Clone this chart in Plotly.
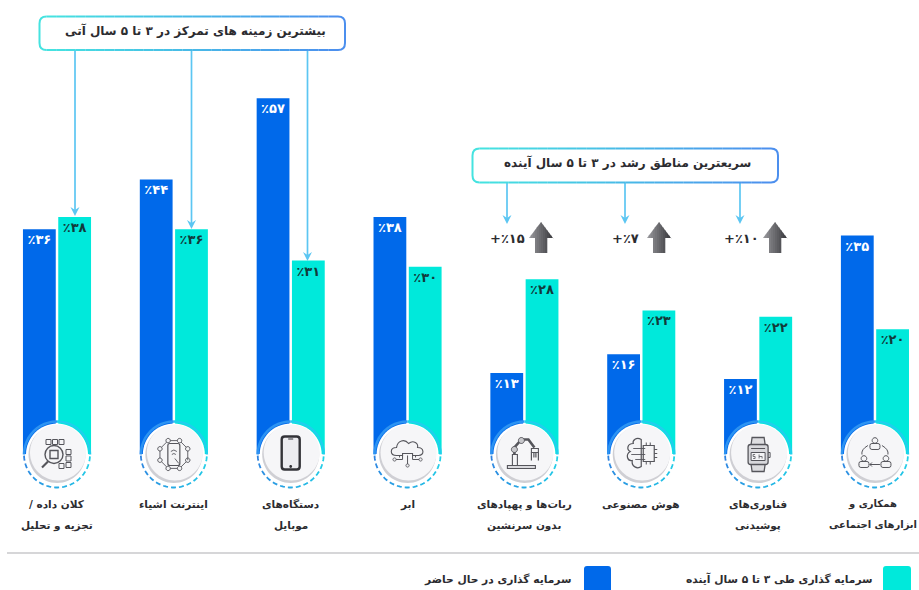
import math
import re
import plotly.graph_objects as go

# ---------- data ----------
categories = [
    "کلان داده /\u200f<br>تجزیه و تحلیل",
    "اینترنت اشیاء",
    "دستگاه‌های<br>موبایل",
    "ابر",
    "ربات‌ها و پهپادهای<br>بدون سرنشین",
    "هوش مصنوعی",
    "فناوری‌های<br>پوشیدنی",
    "همکاری و<br>ابزارهای اجتماعی",
]
current_values = [36, 44, 57, 38, 13, 16, 12, 35]
future_values = [38, 36, 31, 30, 28, 23, 22, 20]
growth_labels = ["+٪۱۵", "+٪۷", "+٪۱۰"]
series_current = "سرمایه گذاری در حال حاضر"
series_future = "سرمایه گذاری طی ۳ تا ۵ سال آینده"
title_focus = "بیشترین زمینه های تمرکز در ۳ تا ۵ سال آتی"
title_growth = "سریعترین مناطق رشد در ۳ تا ۵ سال آینده"

# ---------- layout constants ----------
W, H = 919, 590
X0, STEP = 57.0, 116.85
Y0, UNIT = 454.0, 6.24
BLUE, TEAL = "#0069EA", "#00E9DB"
DARK = "#2C2C30"
FONT = "DejaVu Sans"
ICON = "#55555B"
FA = str.maketrans("0123456789", "۰۱۲۳۴۵۶۷۸۹")


def pct(v):
    return "٪" + str(v).translate(FA)


def fx(p):
    return p / W


def fy(p):
    return 1 - p / H


def lerp(c1, c2, t):
    a = [int(c1[i:i + 2], 16) for i in (1, 3, 5)]
    b = [int(c2[i:i + 2], 16) for i in (1, 3, 5)]
    return "#" + "".join(f"{round(x + (y - x) * t):02x}" for x, y in zip(a, b))


shapes = []
annotations = []


def path(d, cx=0, cy=0, line=None, width=1.0, fill=None):
    """d is an SVG path in pixels relative to (cx, cy)."""
    toks = re.findall(r"[MLCQZ]|-?\d+\.?\d*", d)
    out, i = [], 0
    while i < len(toks):
        if toks[i] in "MLCQZ":
            out.append(toks[i])
            i += 1
        else:
            out.append(f"{fx(cx + float(toks[i])):.5f},{fy(cy + float(toks[i + 1])):.5f}")
            i += 2
    shapes.append(dict(type="path", xref="paper", yref="paper", path=" ".join(out),
                       line=dict(color=line or "rgba(0,0,0,0)", width=width if line else 0),
                       fillcolor=fill or "rgba(0,0,0,0)", layer="above"))


def circle_d(x, y, r):
    k = r * 0.5523
    return (f"M {x - r} {y} C {x - r} {y - k} {x - k} {y - r} {x} {y - r} "
            f"C {x + k} {y - r} {x + r} {y - k} {x + r} {y} "
            f"C {x + r} {y + k} {x + k} {y + r} {x} {y + r} "
            f"C {x - k} {y + r} {x - r} {y + k} {x - r} {y} Z")


def rect_d(x0, y0, x1, y1):
    return f"M {x0} {y0} L {x1} {y0} L {x1} {y1} L {x0} {y1} Z"


def rrect_d(x0, y0, x1, y1, r):
    return (f"M {x0 + r} {y0} L {x1 - r} {y0} Q {x1} {y0} {x1} {y0 + r} L {x1} {y1 - r} "
            f"Q {x1} {y1} {x1 - r} {y1} L {x0 + r} {y1} Q {x0} {y1} {x0} {y1 - r} "
            f"L {x0} {y0 + r} Q {x0} {y0} {x0 + r} {y0} Z")


def text(x, y, s, size=12.5, color=DARK, anchor="center"):
    annotations.append(dict(xref="paper", yref="paper", x=fx(x), y=fy(y), text=s, showarrow=False,
                            xanchor=anchor, yanchor="middle",
                            font=dict(family=FONT, size=size, color=color, weight="bold")))


def arc_pts(cx, cy, r, a0, a1, n=6):
    pts = []
    for i in range(n + 1):
        a = math.radians(a0 + (a1 - a0) * i / n)
        pts.append((cx + r * math.cos(a), cy - r * math.sin(a)))
    return "M " + " L ".join(f"{x:.2f} {y:.2f}" for x, y in pts)


def callout(x0, y0, x1, y1):
    c1, c2 = "#45E3E0", "#4C8FEE"
    path(rrect_d(x0, y0, x1, y1, 7), fill="#FFFFFF", line="#8FC6EE", width=0.5)
    r = 7
    path(f"M {x0 + r} {y0} Q {x0} {y0} {x0} {y0 + r} L {x0} {y1 - r} Q {x0} {y1} {x0 + r} {y1}",
         line=c1, width=2)
    path(f"M {x1 - r} {y0} Q {x1} {y0} {x1} {y0 + r} L {x1} {y1 - r} Q {x1} {y1} {x1 - r} {y1}",
         line=c2, width=2)
    n = 30
    for i in range(n):
        a = x0 + r + (x1 - x0 - 2 * r) * i / n
        b = x0 + r + (x1 - x0 - 2 * r) * (i + 1) / n
        col = lerp(c1, c2, (i + 0.5) / n)
        path(f"M {a:.1f} {y0} L {b:.1f} {y0}", line=col, width=2)
        path(f"M {a:.1f} {y1} L {b:.1f} {y1}", line=col, width=2)


def arrow_down(x, y0, y1):
    col = "#5CC6F2"
    path(f"M {x} {y0} L {x} {y1 - 3}", line=col, width=1.7)
    path(f"M {x - 4.5} {y1 - 9} L {x} {y1 - 6} L {x + 4.5} {y1 - 9} L {x} {y1} Z", fill=col)


def up_arrow(cx, top=222, bottom=253):
    n = 12
    half = 12
    stem = 6.5
    neck = top + 16
    for i in range(n):
        a = cx - half + 2 * half * i / n
        b = cx - half + 2 * half * (i + 1) / n + 0.3
        ya = top + 16 * abs(a - cx) / half
        yb = top + 16 * abs(b - cx) / half
        pts = [(a, ya)]
        if a <= cx <= b:
            pts.append((cx, top))
        pts.append((b, yb))
        in_a, in_b = abs(a - cx) < stem, abs(b - cx) < stem
        low = bottom if (in_a and in_b) else neck
        pts += [(b, low), (a, low)]
        d = "M " + " L ".join(f"{x:.2f} {y:.2f}" for x, y in pts) + " Z"
        path(d, fill=lerp("#9A9A9E", "#38383C", (i + 0.5) / n))


# ---------- icons (pixels relative to the hub centre) ----------
def icon_data(c, y):
    for i in range(3):
        path(rect_d(-11 + i * 6.5, -15, -6 + i * 6.5, -10), c, y, ICON, 1)
    for j in range(3):
        path(rect_d(9, -5 + j * 6.5, 14, 0 + j * 6.5), c, y, ICON, 1)
    path(rect_d(2, 9, 7, 14), c, y, ICON, 1)
    path(circle_d(-3, 0, 9), c, y, ICON, 1.4, "#F4F4F6")
    path(rect_d(-7, -4, 1, 4), c, y, ICON, 1.4)
    path("M -9 7 L -15 13", c, y, ICON, 2.2)


def icon_iot(c, y):
    for i in range(8):
        a = math.radians(22.5 + i * 45)
        px, py = 15 * math.cos(a), 15 * math.sin(a)
        a2 = math.radians(22.5 + (i + 1) * 45)
        path(f"M {px:.1f} {py:.1f} L {15 * math.cos(a2):.1f} {15 * math.sin(a2):.1f}", c, y, ICON, 0.9)
        path(circle_d(round(px, 1), round(py, 1), 2.2), c, y, ICON, 1, "#F4F4F6")
    path(rrect_d(-6, -11, 6, 11, 2), c, y, ICON, 1.2, "#F4F4F6")
    path("M -3 -3 Q 0 -6 3 -3 M -2 0 Q 0 -2 2 0 M 1 4 L 5 9", c, y, ICON, 0.9)


def icon_phone(c, y):
    path(rrect_d(-9, -18, 9, 15, 3), c, y, "#333338", 2.4, "#ECECF0")
    path(circle_d(0, 12, 1.4), c, y, None, 1, "#333338")
    path("M -2.5 -15.5 L 2.5 -15.5", c, y, "#333338", 1)


def icon_cloud(c, y):
    path("M -11 1 C -18 1 -18 -7 -11 -7 C -10 -14 -3 -16 1 -11 C 6 -15 11 -11 10 -7 "
         "C 17 -7 17 1 11 1 L 5 1 L 5 -1 L -5 -1 L -5 1 Z", c, y, ICON, 1.1, "#F4F4F6")
    path("M 0 1 L 0 10 M -5 1 L -5 5 L -12 5 M 5 1 L 5 5 L 12 5 M -8 1 L -8 3 M 8 1 L 8 3", c, y, ICON, 1)
    for px, py in ((0, 11), (-13, 5), (13, 5)):
        path(circle_d(px, py, 1.6), c, y, ICON, 0.9, "#F4F4F6")


def icon_robot(c, y):
    path(rect_d(-17, 11, 11, 14), c, y, ICON, 1.1, "#DADADE")
    path(rect_d(-12, 0, -7, 11), c, y, ICON, 1.1, "#F4F4F6")
    path("M -10 0 L -10 -7 L -3 -15 L 4 -15 L 10 -7", c, y, ICON, 2.6)
    path(circle_d(-10, -5, 3), c, y, ICON, 1, "#C8C8CC")
    path(circle_d(-3, -14, 3), c, y, ICON, 1, "#C8C8CC")
    path(rect_d(7, -6, 14, -2), c, y, ICON, 1.1, "#F4F4F6")
    path("M 7 -2 L 7 6 M 14 -2 L 14 6 M 9.5 -2 L 9.5 3 M 11.5 -2 L 11.5 3", c, y, ICON, 1.2)


def icon_brain(c, y):
    path("M 0 -15 C -5 -18 -9 -14 -8 -11 C -14 -11 -15 -5 -11 -3 C -16 0 -14 7 -9 6 "
         "C -10 12 -4 15 0 12 Z", c, y, ICON, 1.2, "#F4F4F6")
    path(rect_d(2, -9, 13, 7), c, y, ICON, 1.2, "#F4F4F6")
    path("M -8 -6 L 4 -6 M -10 0 L 4 0 M -6 5 L 4 5", c, y, ICON, 0.9)
    path("M 5 -9 L 5 -12 M 9 -9 L 9 -12 M 5 7 L 5 10 M 9 7 L 9 10 "
         "M 13 -5 L 16 -5 M 13 -1 L 16 -1 M 13 3 L 16 3", c, y, ICON, 1)


def icon_watch(c, y):
    path("M -7 -10 L -6 -17 L 6 -17 L 7 -10 M -7 10 L -6 17 L 6 17 L 7 10", c, y, ICON, 1.3, "#DDDDE0")
    path(rrect_d(-10, -10, 10, 10, 2.5), c, y, ICON, 1.3, "#D8D8DC")
    path(rect_d(-7, -2, 7, 6), c, y, ICON, 1, "#F4F4F6")
    path("M -7 -6 L 7 -6 M 10 -2 L 12 -2 L 12 3 L 10 3", c, y, ICON, 1)
    path("M -3 0 L -5 0 L -5 2 L -3 2 L -3 4 L -5 4 M 1 0 L 1 4 M 1 2 L 4 2 L 4 4", c, y, ICON, 0.8)


def icon_people(c, y):
    for px, py in ((0, -11), (-11, 7), (11, 7)):
        path(circle_d(px, py - 3, 2.8), c, y, ICON, 1)
        path(rrect_d(px - 5, py, px + 5, py + 6, 2), c, y, ICON, 1, "#F4F4F6")
    path("M -7 -9 Q -14 -5 -13 0 M 7 -9 Q 14 -5 13 0", c, y, ICON, 1)
    path("M 5 10 L -5 10 M -3 8 L -5 10 L -3 12", c, y, ICON, 1)


icons = [icon_data, icon_iot, icon_phone, icon_cloud, icon_robot, icon_brain, icon_watch, icon_people]

# ---------- hubs ----------
for i, icon in enumerate(icons):
    cx = X0 + STEP * i
    cy = Y0 + 0.5
    path(arc_pts(cx, cy, 33, 180, 90, 12), line="#2C93F2", width=2.5)
    path(arc_pts(cx, cy, 33, 90, 0, 12), line="#1FD0EC", width=2.5)
    path(circle_d(cx, cy, 31), fill="#FFFFFF")
    n = 13
    for k in range(n):
        a0 = 180 + 180 * k / n + 2
        a1 = a0 + 180 / n * 0.62
        path(arc_pts(cx, cy, 33, a0, a1, 3), line=lerp("#2E7FE0", "#1FD5E8", (k + 0.5) / n), width=1.8)
    path(circle_d(cx, cy, 28.5), fill="#CFCFD4")
    path(circle_d(cx + 1, cy - 2, 28), fill="#F6F6F8")
    icon(cx, cy)

# ---------- call-outs ----------
arrow_down(75, 50, 216)
arrow_down(191.5, 50, 229)
arrow_down(307.5, 50, 261)
callout(39.5, 16.5, 345, 50)
text(195, 31, title_focus, 12)

for x in (507, 625, 740):
    arrow_down(x, 183, 224)
callout(472.5, 148.5, 778, 182.5)
text(627, 163, title_growth, 12)

for g, ax, tx in zip(growth_labels, (541, 659, 775), (507, 625, 741)):
    up_arrow(ax)
    text(tx, 239, g, 13)

# ---------- category labels ----------
for i, cat in enumerate(categories):
    for j, part in enumerate(cat.split("<br>")):
        annotations.append(dict(xref="x", yref="paper", x=cat, y=fy(504 + 21 * j), text=part,
                                showarrow=False, xanchor="center", yanchor="middle",
                                xshift=-2 if i == 7 else 0,
                                font=dict(family=FONT, size=10 if i == 7 else 10.5, color=DARK,
                                          weight="bold")))

# ---------- separator + legend ----------
path(f"M 7 553 L {W} 553", line="#AEAEB2", width=1.2)
path(rrect_d(883, 566, 911, 600, 3), fill=TEAL)
path(rrect_d(584, 566, 611, 600, 3), fill=BLUE)
text(875, 579, series_future, 10.7, anchor="right")
text(573, 579, series_current, 10.7, anchor="right")

# ---------- bars ----------
fig = go.Figure()
fig.add_bar(name=series_current, x=categories, y=current_values, marker_color=BLUE,
            text=[pct(v) for v in current_values],
            insidetextfont=dict(family=FONT, size=13, color="#FFFFFF", weight="bold"))
fig.add_bar(name=series_future, x=categories, y=future_values, marker_color=TEAL,
            text=[pct(v) for v in future_values],
            insidetextfont=dict(family=FONT, size=13, color="#123A3A", weight="bold"))
fig.update_traces(textposition="inside", insidetextanchor="end", textangle=0,
                  constraintext="none", hoverinfo="skip", marker_line_width=0)

fig.update_layout(
    width=W, height=H, margin=dict(l=0, r=0, t=0, b=0, pad=0), autosize=False,
    paper_bgcolor="#FFFFFF", plot_bgcolor="#FFFFFF", showlegend=False,
    barmode="group", bargap=0.396, bargroupgap=0.071,
    xaxis=dict(type="category", categoryorder="array", categoryarray=categories,
               range=[-X0 / STEP, (W - X0) / STEP], showticklabels=False, ticks="",
               showgrid=False, zeroline=False, showline=False),
    yaxis=dict(domain=[(H - Y0) / H, 1], range=[0, Y0 / UNIT], visible=False, showgrid=False,
               zeroline=False),
    shapes=shapes, annotations=annotations,
    font=dict(family=FONT),
)

fig.write_html("out.html", config={"displayModeBar": False},
               post_script="document.body.style.margin='0';document.body.style.overflow='hidden';")
